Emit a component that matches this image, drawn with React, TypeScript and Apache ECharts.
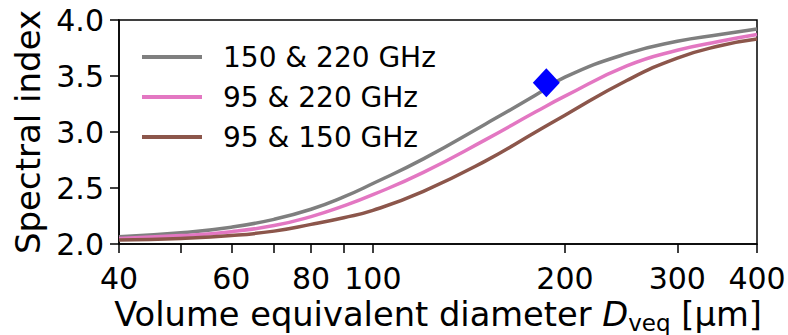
import React, { useEffect, useRef } from "react";
import * as echarts from "echarts";

const DIAMETERS = [40, 50, 60, 70, 80, 90, 100, 120, 150, 180, 200, 250, 300, 350, 400];
const SI_150_220 = [2.065, 2.1, 2.15, 2.22, 2.31, 2.42, 2.54, 2.76, 3.07, 3.33, 3.49, 3.7, 3.81, 3.87, 3.92];
const SI_95_220 = [2.05, 2.075, 2.11, 2.165, 2.245, 2.34, 2.44, 2.64, 2.93, 3.18, 3.32, 3.59, 3.73, 3.81, 3.87];
const SI_95_150 = [2.035, 2.05, 2.075, 2.115, 2.175, 2.235, 2.3, 2.47, 2.74, 3.0, 3.15, 3.46, 3.66, 3.77, 3.83];
const SERIES_NAMES = ["150 & 220 GHz", "95 & 220 GHz", "95 & 150 GHz"];
const SERIES_COLORS = ["#7f7f7f", "#e377c2", "#8c564b"];
const MARKER_POINT = [187, 3.44];
const X_LABEL_VALUES = [40, 60, 80, 100, 200, 300, 400];
const X_TICK_VALUES = [40, 50, 60, 70, 80, 90, 100, 200, 300, 400];
const Y_MIN = 2.0;
const Y_MAX = 4.0;
const Y_STEP = 0.5;

const FONT = "DejaVu Sans";

export default function App() {
  const ref = useRef<HTMLDivElement>(null);
  useEffect(() => {
    const chart = echarts.init(ref.current!, null, { renderer: "svg" });
    const allSeries = [SI_150_220, SI_95_220, SI_95_150];
    const option: any = {
      animation: false,
      textStyle: { fontFamily: FONT, color: "#000" },
      grid: {
        left: 119,
        right: 31,
        top: 20,
        bottom: 91,
        show: true,
        borderColor: "#000",
        borderWidth: 1.5,
        backgroundColor: "transparent",
        containLabel: false,
        outerBoundsMode: "none",
      },
      legend: {
        data: SERIES_NAMES,
        orient: "vertical",
        left: 142,
        top: 43,
        padding: 0,
        icon: "rect",
        itemWidth: 60,
        itemHeight: 4,
        itemGap: 12,
        textStyle: { fontSize: 28, fontFamily: FONT, color: "#000", padding: [0, 0, 0, 16] },
      },
      xAxis: {
        type: "log",
        logBase: 10,
        min: 40,
        max: 400,
        axisLine: { show: true, lineStyle: { color: "#000", width: 1.5 } },
        axisTick: { show: true, length: 9, inside: false, lineStyle: { color: "#000", width: 1.5 }, customValues: X_TICK_VALUES },
        axisLabel: { customValues: X_LABEL_VALUES, fontSize: 30, fontFamily: FONT, color: "#000", margin: 19 },
        splitLine: { show: false },
        minorTick: { show: false },
        name: "{n|Volume equivalent diameter }{i|D}{s|veq}{n| [μm]}",
        nameLocation: "middle",
        nameGap: 47,
        nameTextStyle: {
          fontSize: 33.7,
          fontFamily: FONT,
          color: "#000",
          rich: {
            n: { fontSize: 33.7, lineHeight: 40, fontFamily: FONT, color: "#000" },
            i: { fontSize: 33.7, lineHeight: 40, fontFamily: FONT, fontStyle: "italic", color: "#000" },
            s: { fontSize: 23, lineHeight: 27, fontFamily: FONT, color: "#000", verticalAlign: "bottom" },
          },
        },
      },
      yAxis: {
        type: "value",
        min: Y_MIN,
        max: Y_MAX,
        interval: Y_STEP,
        axisLine: { show: true, lineStyle: { color: "#000", width: 1.5 } },
        axisTick: { show: true, length: 9, inside: false, lineStyle: { color: "#000", width: 1.5 } },
        axisLabel: { fontSize: 30, fontFamily: FONT, color: "#000", margin: 15, formatter: (v: number) => v.toFixed(1) },
        splitLine: { show: false },
        name: "Spectral index",
        nameLocation: "middle",
        nameGap: 73,
        nameTextStyle: { fontSize: 34, fontFamily: FONT, color: "#000" },
      },
      series: [
        ...SERIES_NAMES.map((name, k) => ({
          name,
          type: "line",
          smooth: 0.5,
          symbol: "none",
          showSymbol: false,
          color: SERIES_COLORS[k],
          lineStyle: { width: 3.5, color: SERIES_COLORS[k] },
          data: DIAMETERS.map((d, i) => [d, allSeries[k][i]]),
          z: 2,
        })),
        {
          name: "marker",
          type: "scatter",
          symbol: "diamond",
          symbolSize: [27, 29],
          itemStyle: { color: "#0000ff", opacity: 1 },
          data: [MARKER_POINT],
          z: 10,
        },
      ],
    };
    chart.setOption(option);
    return () => chart.dispose();
  }, []);
  return <div ref={ref} style={{ position: "absolute", left: 0, top: 0, width: 788, height: 335 }} />;
}
